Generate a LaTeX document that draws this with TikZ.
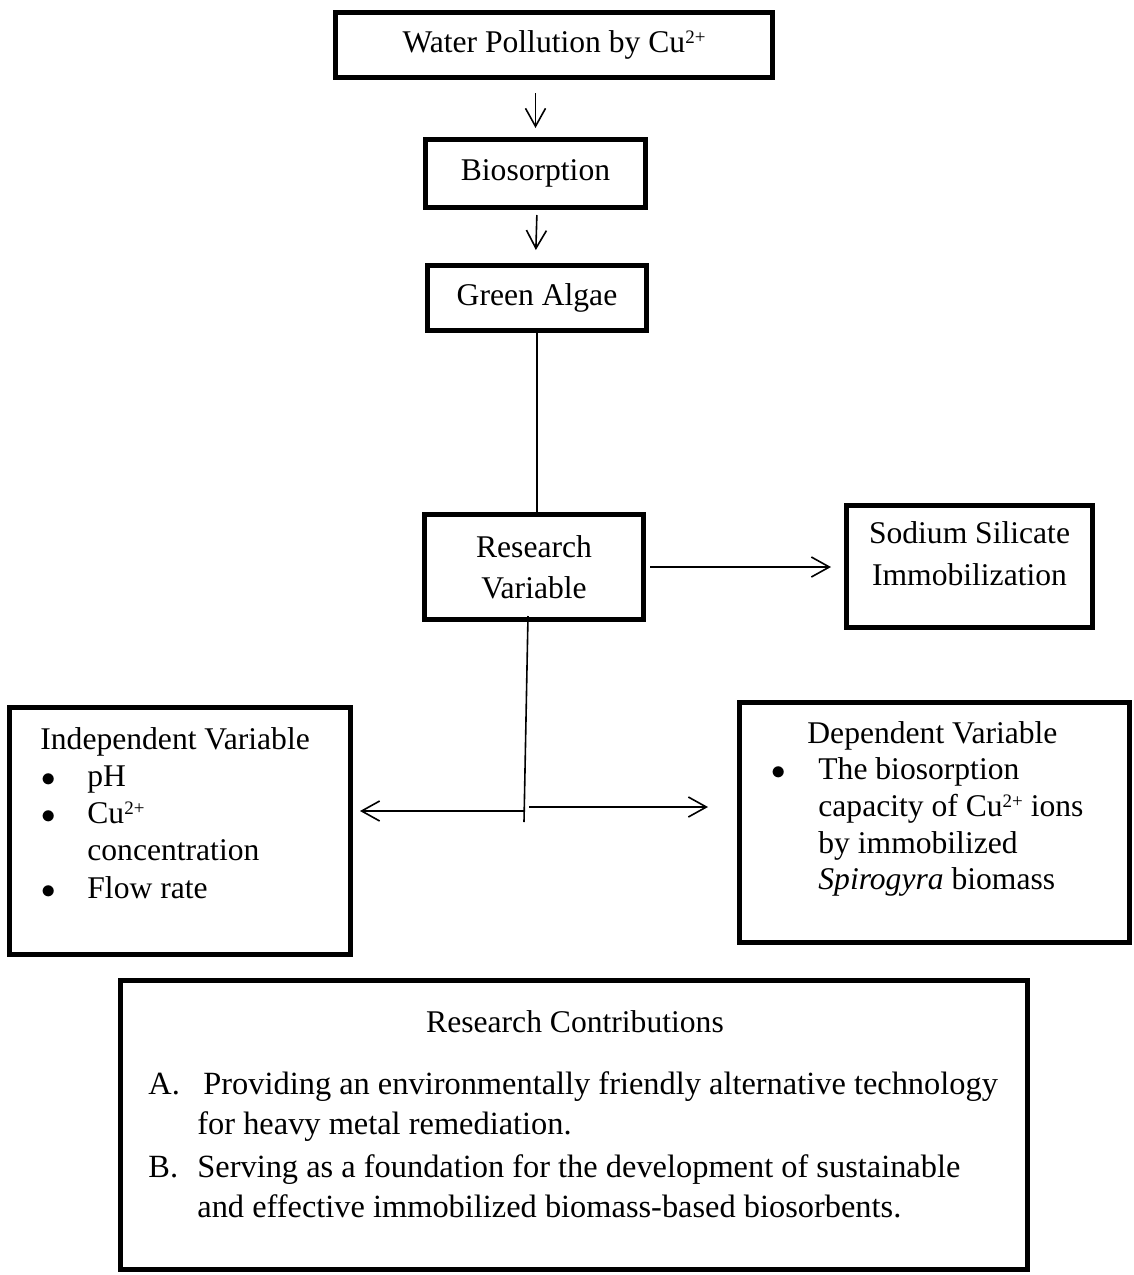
\documentclass[tikz,border=0pt]{standalone}
\usepackage{fontspec}
\setmainfont{Liberation Serif}
\usetikzlibrary{arrows.meta}
\newcommand{\cuion}{Cu\raisebox{0.3em}{\fontsize{9.5}{9.5}\selectfont 2+}}
\newcommand{\bul}[1]{\makebox[#1][l]{\hspace{0.5pt}$\bullet$}}

\begin{document}
\begin{tikzpicture}[x=0.5pt,y=-0.5pt,
  box/.style={draw,line width=2.4pt,inner sep=0pt,align=center,font=\fontsize{15.8}{20.5}\selectfont},
  txt/.style={inner sep=0pt,align=left,font=\fontsize{15.8}{18.6}\selectfont},
  arr/.style={line width=0.8pt,-{Straight Barb[length=9pt,width=10pt]}}]
\useasboundingbox (0,0) rectangle (1134,1275);
% boxes of the chain
\node[box,minimum width=218.6pt,minimum height=32.6pt] (water) at (554,45) {Water Pollution by \cuion};
\node[box,minimum width=110.1pt,minimum height=34.1pt] (bio) at (535.5,173.5) {Biosorption};
\node[box,minimum width=109.6pt,minimum height=32.6pt] (green) at (537,298) {Green Algae};
\node[box,minimum width=109.6pt,minimum height=52.6pt] (research) at (534,567) {Research\\Variable};
\node[box,minimum width=123.1pt,minimum height=61.1pt] (sodium) at (969.5,566.5) {};
\node[txt,align=center,font=\fontsize{15.8}{21}\selectfont] (sodiumtxt) at (969.5,553.5) {Sodium Silicate\\Immobilization};
% variables
\node[box,minimum width=170.6pt,minimum height=123.6pt] (indep) at (180,831) {};
\node[txt,anchor=north west] (indeptxt) at (40,727) {Independent Variable\\
  \bul{23.5pt}pH\\
  \bul{23.5pt}\cuion\\
  \hspace*{23.5pt}concentration\\
  \bul{23.5pt}Flow rate};
\node[box,minimum width=195.1pt,minimum height=120.1pt] (dep) at (934.5,822.5) {};
\node[txt,anchor=north west,font=\fontsize{15.8}{18.3}\selectfont] (deptxt) at (770,721) {\hspace*{18.5pt}Dependent Variable\\
  \bul{24pt}The biosorption\\
  \hspace*{24pt}capacity of \cuion{} ions\\
  \hspace*{24pt}by immobilized\\
  \hspace*{24pt}\textit{Spirogyra} biomass};
% contributions
\node[box,minimum width=453.6pt,minimum height=144.6pt] (contrib) at (574,1125) {};
\node[txt,anchor=base] (contribtitle) at (575,1032) {Research Contributions};
\node[txt,anchor=north west,font=\fontsize{16.2}{20}\selectfont] (contriblist) at (148,1071) {\makebox[24.5pt][l]{A.}\hspace{3pt}Providing an environmentally friendly alternative technology\\
  \hspace*{24.5pt}for heavy metal remediation.\\[1.5pt]
  \makebox[24.5pt][l]{B.}Serving as a foundation for the development of sustainable\\
  \hspace*{24.5pt}and effective immobilized biomass-based biosorbents.};
% connectors
\draw[arr,shorten <=6.5pt,shorten >=4.5pt] (water.south -| bio.south) -- (bio.north);
\draw[arr,shorten <=2.5pt,shorten >=6.5pt] (bio.south -| green.south) -- (bio.south |- green.north);
\draw[line width=0.6pt] (green.south) -- (green.south |- research.north);
\draw[arr,shorten <=2pt,shorten >=6.5pt] (research.east) -- (research.east -| sodium.west);
\coordinate (fork) at (524,822);
\coordinate (forkL) at (524,811);
\coordinate (forkR) at (529,807);
\draw[line width=0.8pt] ([shift={(-6,-6)}]research.south) -- (fork);
\draw[arr,shorten >=3.5pt] (forkL) -- (forkL -| indep.east);
\draw[arr,shorten >=14.5pt] (forkR) -- (forkR -| dep.west);
\end{tikzpicture}
\end{document}
